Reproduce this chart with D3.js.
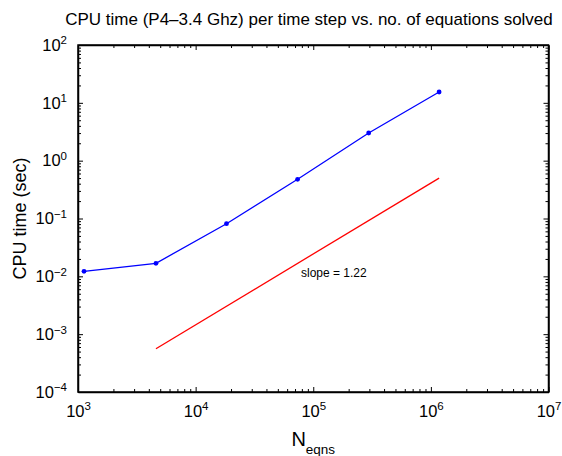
<!DOCTYPE html>
<html>
<head>
<meta charset="utf-8">
<script src="https://cdn.jsdelivr.net/npm/d3@7"></script>
<style>
  body { margin: 0; background: #fff; }
  svg { display: block; font-family: "Liberation Sans", Arial, Helvetica, sans-serif; }
</style>
</head>
<body>
<div id="chart"></div>
<script>
// measured data (N equations vs CPU seconds)
const nEqns = [1125, 4600, 18300, 73600, 296000, 1175000];
const cpuTime = [0.0122, 0.0168, 0.0813, 0.476, 3.01, 15.4];

// reference slope line
const slopeX = [4600, 1175000];
const slopeY = [0.00056, 0.50];
const slopeLabel = "slope = 1.22";

const xMajor = [1e3, 1e4, 1e5, 1e6, 1e7];
const yMajor = [1e-4, 1e-3, 1e-2, 1e-1, 1e0, 1e1, 1e2];

const width = 562, height = 456;
const margin = {top: 45, right: 13.5, bottom: 64, left: 78};

const svg = d3.select("#chart").append("svg")
    .attr("width", width)
    .attr("height", height);

const x = d3.scaleLog()
    .domain([1e3, 1e7])
    .range([margin.left, width - margin.right]);

const y = d3.scaleLog()
    .domain([1e-4, 1e2])
    .range([height - margin.bottom, margin.top]);

function minors(domain) {
    const out = [];
    for (let e = Math.log10(domain[0]); e < Math.log10(domain[1]); e++)
        for (let k = 2; k <= 9; k++) out.push(k * Math.pow(10, e));
    return out;
}

function supLabel(sel, v) {
    const e = Math.round(Math.log10(v));
    sel.text("10");
    sel.append("tspan")
        .attr("dy", "-0.55em")
        .attr("font-size", "11.5px")
        .text(e < 0 ? "\u2212" + (-e) : e);
}

// minor ticks, all four sides
const gMinor = svg.append("g").attr("class", "minor");
gMinor.append("g")
    .attr("transform", `translate(0,${y.range()[0]})`)
    .call(d3.axisBottom(x).tickValues(minors(x.domain())).tickSize(-3).tickFormat(""));
gMinor.append("g")
    .attr("transform", `translate(0,${y.range()[1]})`)
    .call(d3.axisTop(x).tickValues(minors(x.domain())).tickSize(-3).tickFormat(""));
gMinor.append("g")
    .attr("transform", `translate(${x.range()[0]},0)`)
    .call(d3.axisLeft(y).tickValues(minors(y.domain())).tickSize(-3).tickFormat(""));
gMinor.append("g")
    .attr("transform", `translate(${x.range()[1]},0)`)
    .call(d3.axisRight(y).tickValues(minors(y.domain())).tickSize(-3).tickFormat(""));
gMinor.selectAll(".domain").remove();

// major ticks
const xb = svg.append("g")
    .attr("transform", `translate(0,${y.range()[0]})`)
    .call(d3.axisBottom(x).tickValues(xMajor).tickSizeInner(-5).tickSizeOuter(0).tickPadding(13));
svg.append("g")
    .attr("transform", `translate(0,${y.range()[1]})`)
    .call(d3.axisTop(x).tickValues(xMajor).tickSizeInner(-5).tickSizeOuter(0).tickFormat(""));
const yl = svg.append("g")
    .attr("transform", `translate(${x.range()[0]},0)`)
    .call(d3.axisLeft(y).tickValues(yMajor).tickSizeInner(-5).tickSizeOuter(0).tickPadding(11));
svg.append("g")
    .attr("transform", `translate(${x.range()[1]},0)`)
    .call(d3.axisRight(y).tickValues(yMajor).tickSizeInner(-5).tickSizeOuter(0).tickFormat(""));

xb.selectAll("text").each(function(d) { supLabel(d3.select(this), d); });
yl.selectAll("text").each(function(d) { supLabel(d3.select(this), d); });

svg.selectAll(".tick text")
    .attr("fill", "#000")
    .attr("font-size", "16.5px");
svg.selectAll(".domain").attr("stroke", "#000").attr("stroke-width", 1.5);
svg.selectAll(".tick line").attr("stroke", "#000").attr("stroke-width", 1);

// box
svg.append("rect")
    .attr("x", x.range()[0])
    .attr("y", y.range()[1])
    .attr("width", x.range()[1] - x.range()[0])
    .attr("height", y.range()[0] - y.range()[1])
    .attr("fill", "none")
    .attr("stroke", "#000")
    .attr("stroke-width", 1.5);

// data line
const line = d3.line().x(d => x(d[0])).y(d => y(d[1]));

svg.append("path")
    .datum(d3.zip(nEqns, cpuTime))
    .attr("fill", "none")
    .attr("stroke", "#0000ff")
    .attr("stroke-width", 1.3)
    .attr("d", line);

svg.append("g")
    .selectAll("circle")
    .data(d3.zip(nEqns, cpuTime))
    .join("circle")
    .attr("cx", d => x(d[0]))
    .attr("cy", d => y(d[1]))
    .attr("r", 2.4)
    .attr("fill", "#0000ff");

svg.append("path")
    .datum(d3.zip(slopeX, slopeY))
    .attr("fill", "none")
    .attr("stroke", "#ff0000")
    .attr("stroke-width", 1.3)
    .attr("d", line);

svg.append("text")
    .attr("x", 301)
    .attr("y", 277)
    .attr("font-size", "12px")
    .attr("fill", "#000")
    .text(slopeLabel);

// title
svg.append("text")
    .attr("x", 309)
    .attr("y", 25)
    .attr("text-anchor", "middle")
    .attr("font-size", "17px")
    .text("CPU time (P4\u20133.4 Ghz) per time step vs. no. of equations solved");

// axis labels
svg.append("text")
    .attr("transform", `translate(26,${(y.range()[0] + y.range()[1]) / 2}) rotate(-90)`)
    .attr("text-anchor", "middle")
    .attr("font-size", "18px")
    .text("CPU time (sec)");

const xl = svg.append("text")
    .attr("x", (x.range()[0] + x.range()[1]) / 2)
    .attr("y", 446)
    .attr("text-anchor", "middle")
    .attr("font-size", "20px");
xl.append("tspan").text("N");
xl.append("tspan")
    .attr("dy", "0.6em")
    .attr("font-size", "13.5px")
    .text("eqns");
</script>
</body>
</html>
